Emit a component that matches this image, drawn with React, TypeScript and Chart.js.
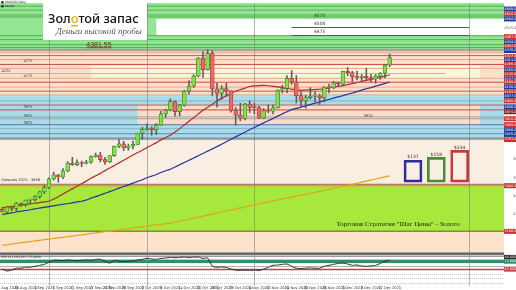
import React, { useEffect, useRef } from 'react';
import { Chart, registerables } from 'chart.js';
Chart.register(...registerables);

// ---------- DATA ----------
const dates = [
  '19 Aug 2025','20 Aug 2025','21 Aug 2025','22 Aug 2025','25 Aug 2025','26 Aug 2025','27 Aug 2025','28 Aug 2025','29 Aug 2025',
  '1 Sep 2025','2 Sep 2025','3 Sep 2025','4 Sep 2025','5 Sep 2025','8 Sep 2025','9 Sep 2025','10 Sep 2025','11 Sep 2025','12 Sep 2025',
  '15 Sep 2025','16 Sep 2025','17 Sep 2025','18 Sep 2025','19 Sep 2025','22 Sep 2025','23 Sep 2025','24 Sep 2025','25 Sep 2025','26 Sep 2025',
  '29 Sep 2025','30 Sep 2025',
  '1 Oct 2025','2 Oct 2025','3 Oct 2025','6 Oct 2025','7 Oct 2025','8 Oct 2025','9 Oct 2025','10 Oct 2025','13 Oct 2025','14 Oct 2025',
  '15 Oct 2025','16 Oct 2025','17 Oct 2025','20 Oct 2025','21 Oct 2025','22 Oct 2025','23 Oct 2025','24 Oct 2025','27 Oct 2025','28 Oct 2025',
  '29 Oct 2025','30 Oct 2025','31 Oct 2025',
  '3 Nov 2025','4 Nov 2025','5 Nov 2025','6 Nov 2025','7 Nov 2025','10 Nov 2025','11 Nov 2025','12 Nov 2025','13 Nov 2025','14 Nov 2025',
  '17 Nov 2025','18 Nov 2025','19 Nov 2025','20 Nov 2025','21 Nov 2025','24 Nov 2025','25 Nov 2025','26 Nov 2025','27 Nov 2025','28 Nov 2025',
  '1 Dec 2025','2 Dec 2025','3 Dec 2025','4 Dec 2025','5 Dec 2025','8 Dec 2025','9 Dec 2025','10 Dec 2025','11 Dec 2025','12 Dec 2025',
];
const opens = [3332,3315,3347,3339,3371,3365,3393,3397,3416,3448,3476,3533,3559,3545,3586,3636,3627,3640,3634,3643,3679,3690,3659,3644,3685,3746,3763,3736,3749,3760,3833,3858,3866,3857,3886,3960,3985,4040,3975,4017,4110,4142,4208,4326,4251,4356,4125,4095,4126,4112,3982,3952,3931,4024,4002,4001,3932,3980,3977,4000,4115,4127,4194,4170,4080,4045,4067,4077,4078,4065,4136,4131,4164,4155,4239,4231,4205,4200,4208,4198,4189,4208,4228,4280];
const highs = [3345,3350,3351,3379,3376,3394,3398,3423,3453,3489,3540,3578,3563,3600,3646,3674,3658,3649,3655,3685,3703,3707,3675,3688,3749,3791,3779,3762,3781,3834,3871,3895,3875,3897,3977,3991,4059,4045,4022,4117,4179,4218,4330,4370,4381.55,4375,4161,4146,4161,4113,4002,4030,4029,4046,4031,4010,3995,4020,4020,4118,4149,4211,4245,4211,4104,4082,4132,4107,4090,4140,4156,4174,4169,4240,4264,4240,4241,4219,4259,4220,4218,4231,4285,4353];
const lows = [3315,3311,3324,3322,3352,3352,3370,3386,3404,3435,3469,3525,3511,3534,3578,3621,3620,3613,3631,3634,3676,3644,3628,3640,3681,3738,3718,3722,3729,3757,3793,3851,3820,3823,3884,3936,3979,3945,3947,4010,4090,4134,4204,4200,4248,4082,4004,4056,4075,3972,3886,3916,3920,3970,3962,3928,3929,3968,3960,3997,4098,4100,4153,4032,4005,3997,4056,4039,4022,4039,4097,4126,4140,4150,4211,4171,4183,4175,4185,4169,4162,4186,4196,4270];
const closes = [3315,3347,3339,3371,3365,3393,3397,3416,3448,3476,3533,3559,3545,3586,3636,3627,3640,3634,3643,3679,3690,3659,3644,3685,3746,3763,3736,3749,3760,3833,3858,3866,3857,3886,3960,3985,4040,3975,4017,4110,4142,4208,4326,4251,4356,4125,4095,4126,4112,3982,3952,3931,4024,4002,4001,3932,3980,3977,4000,4115,4127,4194,4170,4080,4045,4067,4077,4078,4065,4136,4131,4164,4155,4239,4231,4205,4200,4208,4198,4189,4208,4228,4280,4330];
const maFast = [3343,3348,3352,3356,3361,3365,3369,3373,3377,3382,3386,3400,3416,3434,3451,3467,3485,3501,3518,3537,3553,3569,3587,3604,3620,3638,3655,3672,3690,3706,3721,3739,3755,3771,3789,3805,3820,3841,3863,3887,3911,3935,3959,3984,4004,4024,4044,4062,4079,4096,4109,4120,4129,4140,4144,4146,4147,4145,4141,4137,4133,4128,4123,4119,4115,4117,4118,4120,4122,4126,4131,4137,4141,4146,4152,4159,4166,4173,4180,4187,4194,4201,4208,4216];
const maMid = [3299,3304,3309,3315,3320,3325,3330,3336,3341,3346,3351,3356,3361,3366,3371,3375,3381,3386,3394,3406,3416,3427,3438,3449,3460,3472,3483,3493,3505,3516,3527,3540,3551,3562,3575,3586,3596,3611,3626,3640,3655,3670,3685,3700,3715,3730,3745,3761,3777,3793,3809,3824,3841,3856,3871,3886,3901,3915,3930,3945,3960,3974,3988,3996,4004,4013,4021,4030,4038,4047,4055,4064,4072,4080,4089,4097,4106,4116,4125,4133,4142,4151,4160,4169];
const maSlow = [3097,3100,3105,3109,3113,3117,3121,3125,3129,3133,3137,3141,3145,3149,3153,3157,3161,3165,3169,3174,3178,3182,3186,3190,3193,3198,3202,3206,3210,3214,3218,3223,3227,3230,3234,3238,3242,3249,3254,3261,3268,3274,3281,3288,3295,3301,3308,3315,3322,3328,3334,3342,3348,3355,3361,3368,3375,3381,3388,3394,3401,3407,3413,3420,3426,3432,3438,3445,3451,3457,3464,3470,3476,3483,3490,3497,3504,3511,3518,3525,3532,3539,3546,3553];
const oscillator = [47,41,44,50,50,53,53,56,59,62,69,75,75,74,76,75,74,75,76,75,78,78,72,66,75,72,71,72,73,76,78,81,79,78,81,82,84,83,84,85,84,85,85,81,82,56,53,54,52,47,44,43,44,43,44,43,47,53,59,60,62,63,56,50,49,50,51,50,50,56,59,62,65,66,63,59,60,57,56,57,59,65,72,75];
const dateTickIndex = [1,5,9,13,17,21,24,28,32,36,40,44,47,51,55,59,63,67,71,75,79,83];
const futureSlots = 24;
const monthLineIndex = [10, 31, 54, 100];

const boxIndex = [88, 93, 98];
const boxBase = [3512, 3512, 3512];
const boxTop = [3655, 3674, 3720];
const boxLabels = ['$137', '$158', '$334'];

const peakLabel = '4381.55';
const peakPrice = 4381.55;
const averageLabel = 'Средняя 2025 - 3496';
const averagePrice = 3496;
const strategyTitle = 'Торговая Стратегия "Шаг Цены" - Золото';

// zones (price ranges) drawn behind the candles
const zoneHigh = [4688, 4584, 4374, 4278, 4077, 4018, 3785, 3490, 3186];
const zoneLow = [4382, 4474, 4077, 4187, 3785, 3889, 3498, 3190, 3050];
const zoneFrom: (number | null)[] = [null, 33, null, 19, null, 29, null, null, null];
const zoneTo: (number | null)[] = [null, null, null, 102.4, null, 102.4, null, null, null];

// horizontal levels across the whole chart
const levelPrices = [4668, 4642, 4610, 4597, 4474, 4448, 4415, 4396, 4379,
  4362, 4343, 4317, 4285, 4259, 4194, 4168, 4136, 4109, 4084,
  4045, 4018, 3986, 3940, 3928, 3889, 3863, 3830, 3798, 3496, 3488, 3188];
// partial levels
const partialPrices = [4532, 4480, 4226];
const partialFrom = [62, 62, -1];
const partialTo = [100, 100, 95];

// level captions
const captionText = ['4575', '4500', '4475', '4275', '4225', '4175', '3975', '3925', '3875', '3925'];
const captionIndex = [68, 68, 68, 5.5, -0.2, 5.5, 5.5, 5.5, 5.5, 78.4];
const captionPrice = [4603, 4551, 4499, 4304, 4240, 4207, 4005, 3947, 3902, 3947];

// right-axis price marks
const axisMarkPrices = [4649, 4616, 4584, 4525, 4467, 4434, 4402, 4376, 4337, 4311, 4285, 4250, 4220, 4187, 4168, 4136, 4103, 4077, 4045, 4006, 3974, 3928, 3889, 3856, 3825, 3791, 3488, 3188];
const indicatorMarks = [84, 72, 47];
const indicatorLevels = [87.5, 58, 47, 31, 19, 3];
const indicatorBand = [66, 77];

// ---------- STYLES ----------
const zoneColors = ['#93e493', '#ffffff', '#fde0c9', '#fff5d8', '#a9dbe8', '#fcdcc6', '#f9eee2', '#a6e83c', '#fde3cc'];
const levelColors = ['#4fb24f', '#4fb24f', '#4fb24f', '#4fb24f', '#4fb24f', '#4fb24f', '#4fb24f', '#4fb24f', '#a8a298',
  '#e4a88c', '#cf5a50', '#e4a88c', '#c94848', '#e4a88c', '#e4a88c', '#c94848', '#e4a88c', '#cf5a50', '#b0a8a0',
  '#86b4c6', '#c95a5a', '#c94848', '#8aa8b8', '#a0a0a0', '#5878a8', '#86b4c6', '#5a8fc0', '#9a9a9a', '#b07a6a', '#d2a43a', '#8a8a3a'];
const levelWidths = [1, 1, 1, 1, 1, 1, 1, 1, 2.5, 1, 1, 1, 1, 1, 1, 1, 1, 1, 1, 1, 1, 1, 1, 1, 1, 1, 1, 2.5, 1.5, 1.5, 1.5];
const partialColors = ['#5a5a5a', '#5a5a5a', '#b8b8b8'];
const axisMarkColors = ['#1f3c9c', '#c83030', '#1f3c9c', '#ffffff', '#c83030', '#1f3c9c', '#c83030', '#1f3c9c', '#c83030', '#1f3c9c', '#c83030', '#1f3c9c', '#c83030', '#1f3c9c', '#c83030', '#1f3c9c', '#c83030', '#1f3c9c', '#c83030', '#1f3c9c', '#8e1a1a', '#c83030', '#c83030', '#1f3c9c', '#1f3c9c', '#c83030', '#c83030', '#c83030'];
const indicatorMarkColors = ['#1a1a1a', '#2f8f6a', '#c0404a'];
const indicatorLevelColors = ['#9a9a9a', '#b0b0b0', '#c0404a', '#c8c8c8', '#c8c8c8', '#c8c8c8'];
const boxColors = ['#2b2f9a', '#4c8a3a', '#c83a3a'];
const UP = '#84e044', UP_EDGE = '#2f7d2a', DOWN = '#ec6a6a', DOWN_EDGE = '#a83030';

const N = dates.length + futureSlots;

function pad<T>(arr: T[]): (T | null)[] {
  return [...arr, ...Array(N - arr.length).fill(null)];
}

const bgPlugin = {
  id: 'bgLevels',
  beforeDraw(chart: any) {
    const { ctx, width, height } = chart;
    ctx.save();
    ctx.fillStyle = '#ffffff';
    ctx.fillRect(0, 0, width, height);
    ctx.restore();
  },
  beforeDatasetsDraw(chart: any) {
    const { ctx, chartArea } = chart;
    const xs = chart.scales.x, ys = chart.scales.y, y2 = chart.scales.y2;
    const L = chartArea.left, R = chartArea.right;
    const xp = (i: number | null, def: number) =>
      i === null ? def : Math.max(L, Math.min(R, xs.getPixelForValue(i)));
    ctx.save();
    ctx.beginPath();
    ctx.rect(L, ys.top, R - L, ys.bottom - ys.top);
    ctx.clip();
    zoneHigh.forEach((hi, k) => {
      const x0 = xp(zoneFrom[k], L), x1 = xp(zoneTo[k], R);
      const a = ys.getPixelForValue(hi), b = ys.getPixelForValue(zoneLow[k]);
      ctx.fillStyle = zoneColors[k];
      ctx.fillRect(x0, a, x1 - x0, b - a);
    });
    levelPrices.forEach((p, k) => {
      const yy = ys.getPixelForValue(p);
      ctx.strokeStyle = levelColors[k];
      ctx.lineWidth = levelWidths[k];
      ctx.beginPath();
      ctx.moveTo(L, yy);
      ctx.lineTo(R, yy);
      ctx.stroke();
    });
    partialPrices.forEach((p, k) => {
      const yy = Math.round(ys.getPixelForValue(p)) + 0.5;
      ctx.strokeStyle = partialColors[k];
      ctx.lineWidth = 1;
      ctx.beginPath();
      ctx.moveTo(xp(partialFrom[k], L), yy);
      ctx.lineTo(xp(partialTo[k], R), yy);
      ctx.stroke();
    });
    ctx.restore();

    // indicator panel
    ctx.save();
    ctx.fillStyle = '#ffffff';
    ctx.fillRect(L, y2.top, R - L, y2.bottom - y2.top);
    const b0 = y2.getPixelForValue(indicatorBand[1]), b1 = y2.getPixelForValue(indicatorBand[0]);
    ctx.fillStyle = '#2f8f6a';
    ctx.fillRect(L, b0, R - L, b1 - b0);
    indicatorLevels.forEach((v, k) => {
      const yy = Math.round(y2.getPixelForValue(v)) + 0.5;
      ctx.strokeStyle = indicatorLevelColors[k];
      ctx.lineWidth = k === 2 ? 1.5 : 1;
      ctx.setLineDash(k >= 3 ? [1, 1] : []);
      ctx.beginPath();
      ctx.moveTo(L, yy);
      ctx.lineTo(R, yy);
      ctx.stroke();
    });
    ctx.setLineDash([]);
    ctx.fillStyle = '#6b6b6b';
    ctx.fillRect(L, y2.top, R - L, 3);
    // vertical separators
    ctx.strokeStyle = 'rgba(120,120,120,0.55)';
    ctx.lineWidth = 1;
    monthLineIndex.forEach((i) => {
      const xx = Math.round(xs.getPixelForValue(i)) + 0.5;
      ctx.beginPath();
      ctx.moveTo(xx, chartArea.top);
      ctx.lineTo(xx, chartArea.bottom + 2);
      ctx.stroke();
    });
    ctx.restore();
  },
};

const overlayPlugin = {
  id: 'overlayText',
  afterDraw(chart: any) {
    const { ctx } = chart;
    const xs = chart.scales.x, ys = chart.scales.y, y2 = chart.scales.y2;
    const px = (i: number) => xs.getPixelForValue(i);
    const py = (p: number) => ys.getPixelForValue(p);
    const text = (s: string, X: number, Y: number, font: string, color: string, align = 'left', base = 'middle') => {
      ctx.font = font;
      ctx.fillStyle = color;
      ctx.textAlign = align;
      ctx.textBaseline = base;
      ctx.fillText(s, X, Y);
    };
    ctx.save();
    // header
    text('■ XAUUSD,Daily', 1, 2.5, '3px "DejaVu Sans"', '#222');
    text('■ Levels', 1, 6.5, '3px "DejaVu Sans"', '#222');

    // captions
    captionText.forEach((s, k) => {
      const big = k < 3;
      text(s, px(captionIndex[k]), py(captionPrice[k]), (big ? '4.5px' : '3.6px') + ' "DejaVu Sans"', '#333', captionIndex[k] < 0 ? 'left' : 'center');
    });

    // peak label
    const pX = px(20.7), pY = py(peakPrice) - 3;
    text(peakLabel, pX, pY, '7px "Liberation Sans"', '#7a2424', 'center', 'alphabetic');
    ctx.font = '7px "Liberation Sans"';
    const pw = ctx.measureText(peakLabel).width;
    ctx.fillStyle = '#9a3a3a';
    ctx.fillRect(pX - pw / 2, pY + 0.5, pw, 1);

    // average label
    text(averageLabel, 1, py(averagePrice) - 4.5, '3.6px "DejaVu Sans"', '#333');

    // box labels
    boxIndex.forEach((i, k) => {
      text(boxLabels[k], px(i), py(boxTop[k]) - 3, '4.5px "DejaVu Sans"', '#333', 'center');
    });

    // strategy title
    text(strategyTitle, px(71.6), py(3238), '7px "Liberation Serif"', '#222');

    // indicator caption
    text('RSI(14) 69.1961 75.0000', 1, y2.top + 5, '3.2px "DejaVu Sans"', '#333');

    // x-axis date labels
    const xb = xs.top;
    ctx.strokeStyle = '#c8c8c8';
    ctx.lineWidth = 1;
    dateTickIndex.forEach((i) => {
      const cx = px(i);
      text(dates[i], cx, xb + 3.6, '3.6px "DejaVu Sans"', '#333', 'center');
      ctx.beginPath();
      ctx.moveTo(Math.round(cx + 9) + 0.5, xb + 1);
      ctx.lineTo(Math.round(cx + 9) + 0.5, xb + 6);
      ctx.stroke();
    });

    // right axis marks
    const aL = ys.left, aW = ys.right - ys.left;
    axisMarkPrices.forEach((p, k) => {
      const yy = py(p);
      ctx.fillStyle = axisMarkColors[k];
      ctx.fillRect(aL, yy - 2.5, aW, 5);
      text(p.toFixed(2), aL + 0.5, yy, '3.4px "DejaVu Sans"', axisMarkColors[k] === '#ffffff' ? '#555' : '#fff');
    });
    indicatorMarks.forEach((v, k) => {
      const yy = y2.getPixelForValue(v);
      ctx.fillStyle = indicatorMarkColors[k];
      ctx.fillRect(aL, yy - 2.5, aW, 5);
      text(v.toFixed(4), aL + 0.5, yy, '3.4px "DejaVu Sans"', '#fff');
    });

    // logo
    ctx.fillStyle = '#ffffff';
    ctx.fillRect(43, 3, 104, 37);
    const parts = ['Зол', 'о', 'той запас'];
    let size = 14;
    let widths: number[] = [];
    for (;;) {
      ctx.font = `500 ${size}px "Noto Sans"`;
      widths = parts.map((s) => ctx.measureText(s).width);
      if (widths.reduce((a, b) => a + b, 0) <= 92 || size < 8) break;
      size -= 0.25;
    }
    let lx = 48;
    parts.forEach((s, k) => {
      text(s, lx, 23, `500 ${size}px "Noto Sans"`, k === 1 ? '#e2b400' : '#111', 'left', 'alphabetic');
      if (k === 1) {
        ctx.fillStyle = '#e2b400';
        ctx.fillRect(lx + 0.5, 25, widths[k] - 1, 1.5);
      }
      lx += widths[k];
    });
    text('Деньги высокой пробы', 99, 31.5, 'italic 9px "Liberation Serif"', '#555', 'center');
    ctx.restore();
  },
};

export default function App() {
  const ref = useRef<HTMLCanvasElement | null>(null);
  useEffect(() => {
    document.body.style.margin = '0';
    const canvas = ref.current;
    if (!canvas) return;
    const labels = Array.from({ length: N }, (_, i) => (i < dates.length ? dates[i] : ''));
    const bodies = pad(opens.map((o, i) => [o, closes[i]]));
    const wicks = pad(lows.map((l, i) => [l, highs[i]]));
    const boxes: any[] = Array(N).fill(null);
    boxIndex.forEach((i, k) => { boxes[i] = [boxBase[k], boxTop[k]]; });
    const isUp = (i: number) => closes[i] >= opens[i];

    const chart = new Chart(canvas, {
      type: 'bar',
      data: {
        labels,
        datasets: [
          {
            label: 'bodies', data: bodies as any, grouped: false, order: 0, barThickness: 3.8, minBarLength: 1,
            backgroundColor: (c: any) => (isUp(c.dataIndex) ? UP : DOWN),
            borderColor: (c: any) => (isUp(c.dataIndex) ? UP_EDGE : DOWN_EDGE),
            borderWidth: 0.7, borderSkipped: false, yAxisID: 'y',
          } as any,
          {
            label: 'wicks', data: wicks as any, grouped: false, order: 1, barThickness: 0.9,
            backgroundColor: '#5a5a5a', borderWidth: 0, yAxisID: 'y',
          } as any,
          {
            type: 'line', label: 'fast', data: pad(maFast) as any, order: 2, borderColor: '#b52a2a', borderWidth: 1.2,
            pointRadius: 0, tension: 0.2, yAxisID: 'y',
          } as any,
          {
            type: 'line', label: 'mid', data: pad(maMid) as any, order: 3, borderColor: '#27309a', borderWidth: 1.2,
            pointRadius: 0, tension: 0.2, yAxisID: 'y',
          } as any,
          {
            type: 'line', label: 'slow', data: pad(maSlow) as any, order: 4, borderColor: '#e4a21c', borderWidth: 1.2,
            pointRadius: 0, tension: 0.2, yAxisID: 'y',
          } as any,
          {
            label: 'boxes', data: boxes, grouped: false, order: 5, barThickness: 18,
            backgroundColor: 'rgba(0,0,0,0)', borderColor: (c: any) => boxColors[boxIndex.indexOf(c.dataIndex)] || '#000',
            borderWidth: 2, borderSkipped: false, yAxisID: 'y',
          } as any,
          {
            type: 'line', label: 'osc', data: pad(oscillator) as any, order: 6, borderColor: '#2a2a2a', borderWidth: 1,
            pointRadius: 0, tension: 0.2, yAxisID: 'y2',
          } as any,
        ],
      },
      options: {
        animation: false,
        responsive: false,
        maintainAspectRatio: false,
        layout: { padding: 0 },
        plugins: { legend: { display: false }, tooltip: { enabled: false }, title: { display: false } },
        scales: {
          x: {
            type: 'category', offset: true,
            grid: { display: false }, border: { display: false },
            ticks: { display: false },
            afterFit: (s: any) => { s.height = 6; },
          },
          y: {
            type: 'linear', position: 'right', stack: 'v', stackWeight: 252,
            min: 3050, max: 4688,
            grid: { display: false }, border: { display: false },
            ticks: {
              stepSize: 60, padding: 1, font: { size: 3.5, family: 'DejaVu Sans' }, color: '#555',
              callback: (v: any) => (v % 60 === 0 && v <= 3740 ? Number(v).toFixed(2) : ''),
            },
            afterFit: (s: any) => { s.width = 12; },
          },
          y2: {
            type: 'linear', position: 'right', stack: 'v', stackWeight: 32,
            min: 0, max: 100, offset: false,
            grid: { display: false }, border: { display: false },
            ticks: { display: false },
            afterFit: (s: any) => { s.width = 12; },
          },
        },
      } as any,
      plugins: [bgPlugin, overlayPlugin],
    });
    return () => chart.destroy();
  }, []);

  return (
    <div style={{ position: 'fixed', left: 0, top: 0, width: 516, height: 290, background: '#fff' }}>
      <canvas ref={ref} width={516} height={290} style={{ display: 'block', width: 516, height: 290 }} />
    </div>
  );
}
